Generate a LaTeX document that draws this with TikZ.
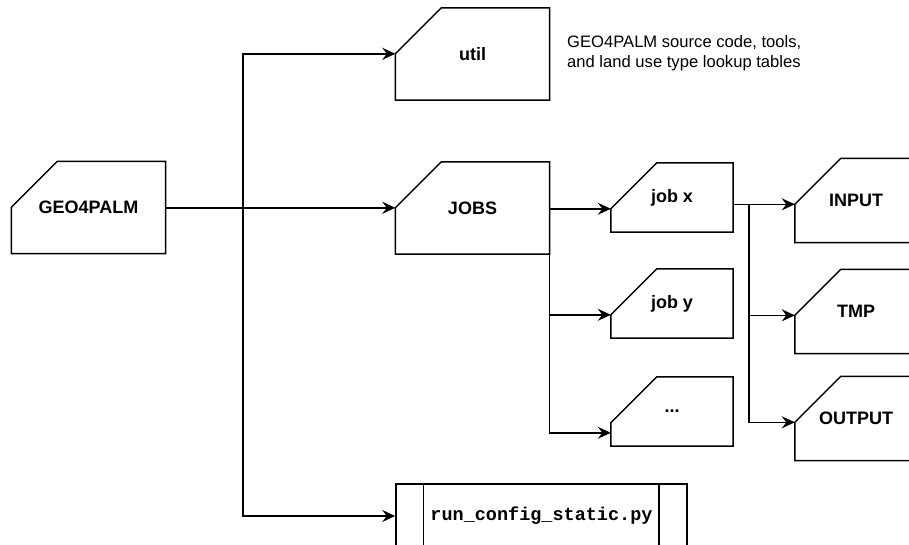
\documentclass[tikz,border=0pt]{standalone}
\usepackage{fontspec}
\setmainfont{Liberation Sans}
\setmonofont{Liberation Mono}
\usetikzlibrary{arrows.meta}

\tikzset{
  bigcard/.style={minimum width=154pt, minimum height=92pt},
  jobcard/.style={minimum width=122pt, minimum height=69pt},
  dircard/.style={minimum width=122pt, minimum height=84pt},
  cardtext/.style={font=\bfseries\fontsize{18}{20}\selectfont},
  outline/.style={line width=1.5pt},
  arr/.style={line width=1.5pt, -{Stealth[length=13pt,width=12pt,inset=4.5pt]}},
  script/.style={draw, line width=1.5pt, minimum width=291pt, minimum height=64pt,
    font=\ttfamily\bfseries\fontsize{18.5}{20}\selectfont},
  note/.style={anchor=north west, align=left, inner sep=0pt,
    font=\fontsize{16.6}{20.5}\selectfont}
}

% card outline with cut corner, plus the corner point (name-c)
\newcommand{\cardline}[1]{%
  \draw[outline] (#1.south west) -- ([yshift=-46pt]#1.north west)
    -- ([xshift=46pt]#1.north west) -- (#1.north east) -- (#1.south east) -- cycle;
  \coordinate (#1-c) at ([yshift=-46pt]#1.north west);}

\begin{document}
\begin{tikzpicture}[x=1pt, y=-1pt]
    \useasboundingbox (0,0) rectangle (909,545);
    \clip (0,0) rectangle (909,545);

    % Folders
    \node[bigcard, cardtext] (geo) at (88.5,207.5) {GEO4PALM};
    \node[bigcard, cardtext] (util) at (472.5,54) {util};
    \node[bigcard, cardtext] (jobs) at (472.5,208) {JOBS};
    \node[jobcard, cardtext] (jobx) at (672,197.5) {job x};
    \node[jobcard, cardtext] (joby) at (672,303.5) {job y};
    \node[jobcard, cardtext] (jobdots) at (672,411.5) {...};
    \node[dircard, cardtext] (input) at (856,200.5) {INPUT};
    \node[dircard, cardtext] (tmp) at (856,311.5) {TMP};
    \node[dircard, cardtext] (output) at (856,418.5) {OUTPUT};
    \foreach \n in {geo,util,jobs,jobx,joby,jobdots,input,tmp,output} {\cardline{\n}}

    % Script
    \node[script] (run) at (541.5,516) {run\_config\_static.py};
    \draw[outline] ([xshift=28pt]run.north west) -- ([xshift=28pt]run.south west);
    \draw[outline] ([xshift=-29pt]run.north east) -- ([xshift=-29pt]run.south east);

    % Note
    \node[note] (info) at (567,35) {GEO4PALM source code, tools,\\and land use type lookup tables};

    % Connectors
    \coordinate (fork) at (243,208);
    \coordinate (subfork) at (749,204);
    \draw[arr] (jobs-c -| geo.east) -- (jobs-c);
    \draw[arr] (fork) |- (util-c);
    \draw[arr] (fork) |- (run.west);
    \draw[arr] (jobx-c -| jobs.east) -- (jobx-c);
    \draw[arr] (jobs.south east) |- (joby-c);
    \draw[arr] (jobs.south east) |- ([yshift=-10pt]jobdots-c);
    \draw[arr] (input-c -| jobx.east) -- (input-c);
    \draw[arr] (subfork) |- (tmp-c);
    \draw[arr] (subfork) |- (output-c);
\end{tikzpicture}
\end{document}
